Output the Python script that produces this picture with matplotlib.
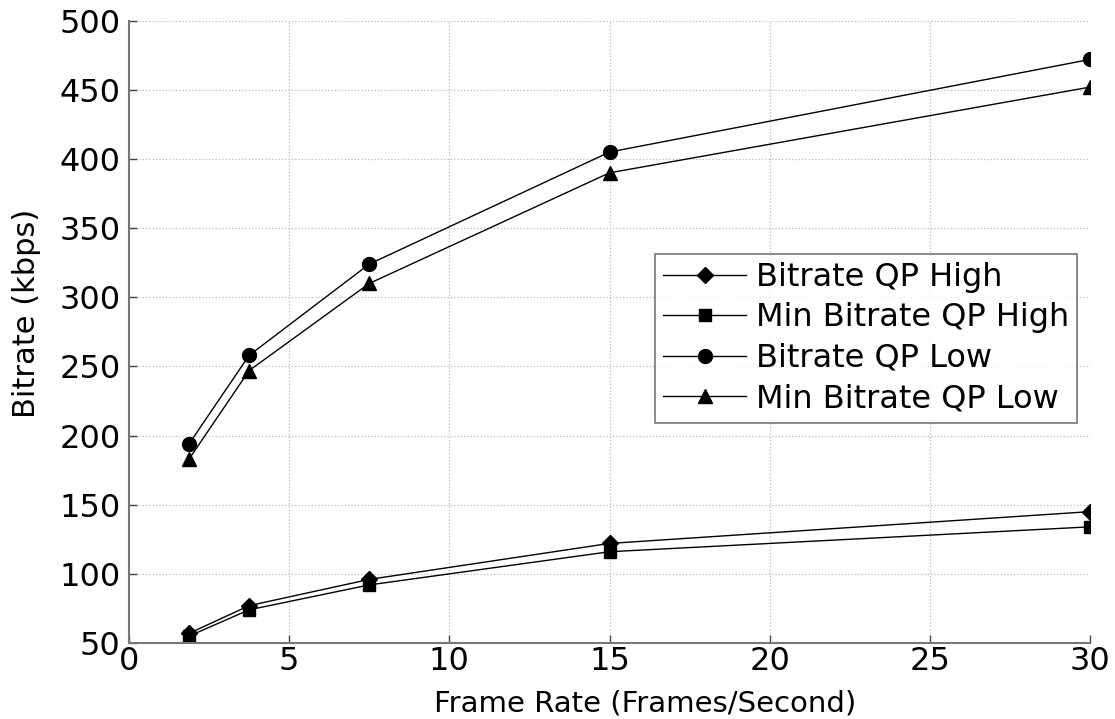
import numpy as np
import matplotlib
matplotlib.use("Agg")
from matplotlib import pyplot as plt

plt.rcParams['font.family'] = ['DejaVu Sans']

frame_rate = [1.875, 3.75, 7.5, 15, 30]
bitrate_high = [57, 77, 96, 122, 145]
min_bitrate_high = [55, 74, 92, 116, 134]
bitrate_low = [194, 258, 324, 405, 472]
min_bitrate_low = [183, 247, 310, 390, 452]

x_ticks = [0, 5, 10, 15, 20, 25, 30]
y_ticks = [50, 100, 150, 200, 250, 300, 350, 400, 450, 500]

fig = plt.figure(figsize=(11.15, 7.19), dpi=100)
ax = fig.add_axes([0.1157, 0.1057, 0.8619, 0.8655])

ax.plot(frame_rate, bitrate_high, color='black', lw=1, marker='D', ms=8, label='Bitrate QP High')
ax.plot(frame_rate, min_bitrate_high, color='black', lw=1, marker='s', ms=8, label='Min Bitrate QP High')
ax.plot(frame_rate, bitrate_low, color='black', lw=1, marker='o', ms=10, label='Bitrate QP Low')
ax.plot(frame_rate, min_bitrate_low, color='black', lw=1, marker='^', ms=10, label='Min Bitrate QP Low')

ax.set_xlim(0, 30)
ax.set_ylim(50, 500)
ax.set_xticks(x_ticks)
ax.set_yticks(y_ticks)
ax.grid(True, color='#bbbbbb', linestyle=':', linewidth=0.9)
ax.set_axisbelow(True)

for s in ['top', 'right']:
    ax.spines[s].set_visible(False)
for s in ['left', 'bottom']:
    ax.spines[s].set_color('#777777')
    ax.spines[s].set_linewidth(1.5)

ax.tick_params(direction='in', length=6, width=1, color='#444444', labelsize=23)
ax.tick_params(axis='x', pad=2)
ax.tick_params(axis='y', pad=6)
ax.set_xlabel('Frame Rate (Frames/Second)', fontsize=21)
ax.xaxis.set_label_coords(0.537, -0.119)
ax.xaxis.label.set_va('bottom')
ax.set_ylabel('Bitrate (kbps)', fontsize=22)
ax.yaxis.set_label_coords(-0.092, 0.53)

leg = ax.legend(loc='upper right', bbox_to_anchor=(0.966, 0.647), bbox_transform=fig.transFigure,
                fontsize=23, frameon=True, fancybox=False, borderaxespad=0,
                handlelength=2.6, handletextpad=0.3, labelspacing=0.3, borderpad=0.25)
leg.get_frame().set_edgecolor('#555555')
leg.get_frame().set_linewidth(1.2)

fig.savefig('out.png', dpi=100)
